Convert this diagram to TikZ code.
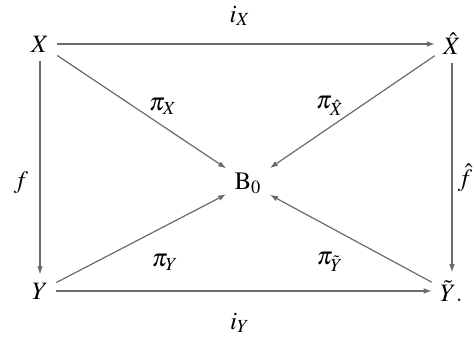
\documentclass[tikz,border=0pt]{standalone}
\usepackage{mathptmx}
\usetikzlibrary{arrows.meta}
\definecolor{wire}{HTML}{6A6A6A}
\tikzset{
  obj/.style={inner sep=4pt,font=\fontsize{12.5}{15}\selectfont},
  lbl/.style={inner sep=1pt,font=\fontsize{12.5}{15}\selectfont},
  mor/.style={-{Latex[length=4pt,width=2.8pt]},line width=0.6pt,draw=wire}
}
\begin{document}
\begin{tikzpicture}[x=0.5pt,y=-0.5pt]
  \useasboundingbox (0,0) rectangle (474,356);
  % objects
  \node[obj] (X)  at ( 40, 44) {$X$};
  \node[obj] (Xh) at (452, 44) {$\hat{X}$};
  \node[obj] (Y)  at ( 40,291) {$Y$};
  \node[obj] (Yt) at (448,291) {$\tilde{Y}$\rlap{.}};
  \node[obj] (B)  at (248,183) {$\mathrm{B}_0$};

  % morphisms
  \draw[mor] (X)  -- (Xh);
  \draw[mor] (Y)  -- (Yt);
  \draw[mor] (X)  -- (Y);
  \draw[mor] (Xh) -- (Xh |- Yt.north);
  \draw[mor] (X)  -- (B);
  \draw[mor] (Xh) -- (B);
  \draw[mor] (Y)  -- (B);
  \draw[mor] (Yt) -- (B);

  % labels
  \node[lbl] (iX)   at (240, 16) {$i_X$};
  \node[lbl] (iY)   at (240,323) {$i_Y$};
  \node[lbl] (f)    at ( 21,183) {$f$};
  \node[lbl] (fh)   at (465,178) {$\hat{f}$};
  \node[lbl] (piX)  at (163,106) {$\pi_X$};
  \node[lbl] (piXh) at (330,106) {$\pi_{\hat{X}}$};
  \node[lbl] (piY)  at (165,262) {$\pi_Y$};
  \node[lbl] (piYt) at (330,262) {$\pi_{\tilde{Y}}$};
\end{tikzpicture}
\end{document}
